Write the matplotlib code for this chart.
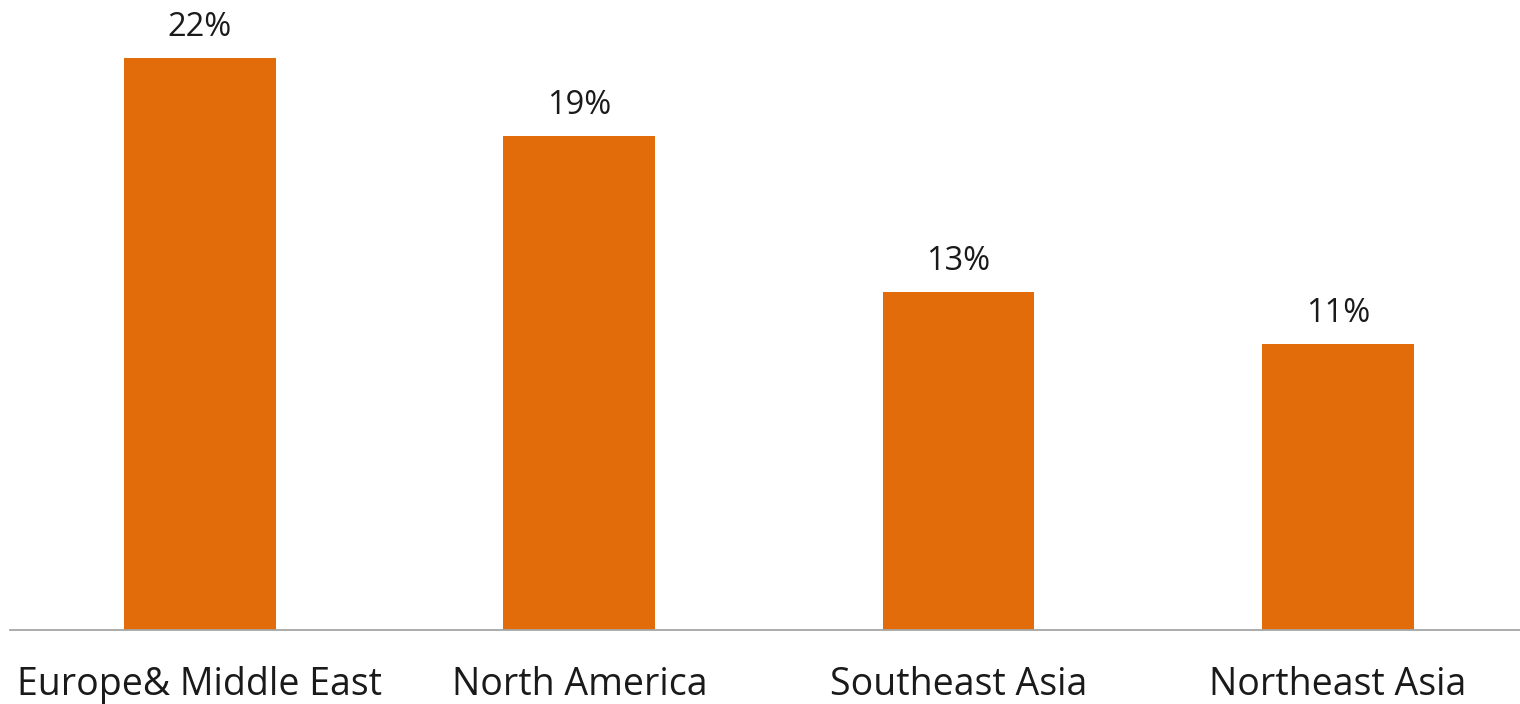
import matplotlib.pyplot as plt

# Datos del gráfico
regiones = ["Europe& Middle East", "North America", "Southeast Asia", "Northeast Asia"]
porcentajes = [22, 19, 13, 11]
etiquetas = ["22%", "19%", "13%", "11%"]

plt.rcParams["font.family"] = ["Open Sans", "DejaVu Sans"]

fig = plt.figure(figsize=(15.2, 7.04), dpi=100)
ax = fig.add_axes([10.3 / 1520, 74 / 704, 1 - 10.3 / 1520, 24 * 26 / 704])

x = list(range(len(regiones)))
barras = ax.bar(x, porcentajes, width=0.4, color="#E36C0A")

# Etiquetas de valor encima de cada barra
for b, txt in zip(barras, etiquetas):
    ax.annotate(
        txt,
        (b.get_x() + b.get_width() / 2, b.get_height()),
        xytext=(0, 16),
        textcoords="offset points",
        ha="center",
        va="baseline",
        fontsize=23.5,
        color="#1a1a1a",
    )

ax.set_xlim(-0.5, 3.48)
ax.set_ylim(0, 24)
ax.set_xticks(x)
ax.set_xticklabels(regiones, fontsize=27, color="#1a1a1a")
ax.tick_params(axis="x", length=0, pad=26)
ax.set_yticks([])

for lado in ["top", "right", "left"]:
    ax.spines[lado].set_visible(False)
ax.spines["bottom"].set_color("#A6A6A6")
ax.spines["bottom"].set_linewidth(1.3)

fig.savefig("out.png", dpi=100)
